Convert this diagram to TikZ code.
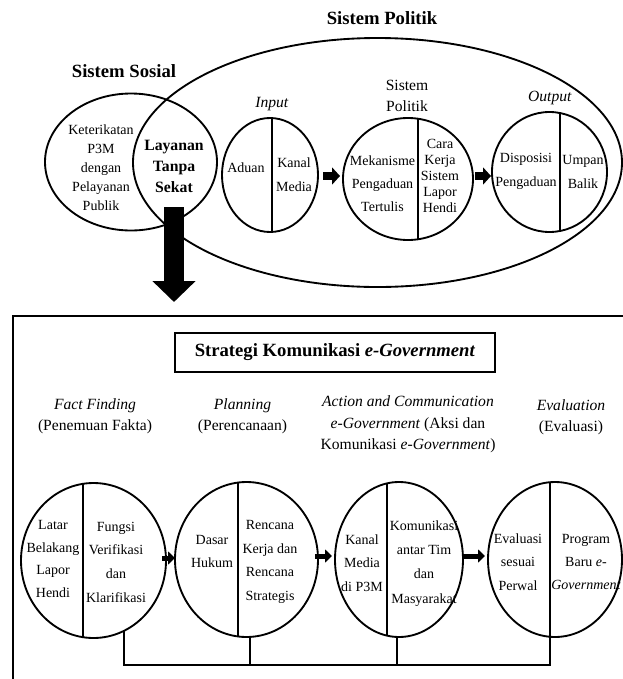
\documentclass[tikz,border=0pt]{standalone}
\usepackage{fontspec}
\setmainfont{Liberation Serif}
\usetikzlibrary{arrows.meta}

\tikzset{
  isi/.style={inner sep=0pt, align=center, font=\fontsize{10.5}{17.5}\selectfont},
  tahap/.style={inner sep=0pt, align=center, font=\fontsize{11.7}{15.75}\selectfont},
  judul/.style={inner sep=0pt, font=\fontsize{14}{17}\selectfont\bfseries},
  panah/.style={line width=5.6pt, -{Triangle[length=6pt,width=12.75pt]}},
  panahkecil/.style={line width=3.75pt, -{Triangle[length=5.25pt,width=9.75pt]}},
}

\begin{document}
\begin{tikzpicture}[x=0.75pt,y=-0.75pt,line width=1.4pt]
  \useasboundingbox (0,0) rectangle (623,679);

  % Sistem Politik and Sistem Sosial
  \draw (377.5,162.5) ellipse (244.5 and 124.5);
  \draw (131,162) ellipse (86 and 68.5);
  \node[judul] (jPolitik) at (382,18) {Sistem Politik};
  \node[judul] (jSosial) at (124,71) {Sistem Sosial};
  \node[isi,font=\fontsize{10.5}{14.25}\selectfont] (keterikatan) at (101,168)
    {Keterikatan\\P3M\\dengan\\Pelayanan\\Publik};
  \node[isi,font=\fontsize{11.8}{15.75}\selectfont\bfseries] (layanan) at (174,166)
    {Layanan\\Tanpa\\Sekat};

  % Input
  \draw (270,175) ellipse (48 and 57);
  \draw (272,{175-57*sqrt(1-(2/48)^2)}) -- (272,{175+57*sqrt(1-(2/48)^2)});
  \node[tahap] (lInput) at (272,104) {\textit{Input}};
  \node[isi] (aduan) at (246,168) {Aduan};
  \node[isi,font=\fontsize{10.5}{18}\selectfont] (kanal) at (294,175) {Kanal\\Media};

  % Sistem Politik circle
  \draw (408,179) ellipse (65 and 61);
  \draw (418,{179-61*sqrt(1-(10/65)^2)}) -- (418,{179+61*sqrt(1-(10/65)^2)});
  \node[tahap] (lPolitik) at (407,95.5) {Sistem\\Politik};
  \node[isi,font=\fontsize{10.5}{17.25}\selectfont] (mekanisme) at (382.5,184)
    {Mekanisme\\Pengaduan\\Tertulis};
  \node[isi,font=\fontsize{10.5}{12}\selectfont] (caraKerja) at (440,176)
    {Cara\\Kerja\\Sistem\\Lapor\\Hendi};

  % Output
  \draw (549.5,172) ellipse (57.5 and 60);
  \draw (560,{172-60*sqrt(1-(10.5/57.5)^2)}) -- (560,{172+60*sqrt(1-(10.5/57.5)^2)});
  \node[tahap] (lOutput) at (550,98) {\textit{Output}};
  \node[isi,font=\fontsize{10.5}{18}\selectfont] (disposisi) at (526,171) {Disposisi\\Pengaduan};
  \node[isi,font=\fontsize{10.5}{18}\selectfont] (umpan) at (583,172) {Umpan\\Balik};

  \coordinate (a1) at (323,176);
  \coordinate (a2) at (340,176);
  \coordinate (a3) at (475,176);
  \coordinate (a4) at (491,176);
  \draw[panah] (a1) -- (a2);
  \draw[panah] (a3) -- (a4);

  % big arrow down
  \coordinate (turunA) at (174,207);
  \coordinate (turunB) at (174,302);
  \draw[line width=15pt, -{Triangle[length=15.75pt,width=31.5pt]}] (turunA) -- (turunB);

  % Strategi Komunikasi frame
  \begin{scope}
    \clip (0,0) rectangle (623,679);
    \draw (13,316) rectangle (650,700);
  \end{scope}
  \node[draw, line width=1.1pt, minimum width=240pt, minimum height=29.25pt,
    font=\fontsize{14}{17}\selectfont\bfseries] (judul) at (335,352.5)
    {Strategi Komunikasi \textit{e-Government}};

  \node[tahap] (tFact) at (95,416.5) {\textit{Fact Finding}\\(Penemuan Fakta)};
  \node[tahap] (tPlan) at (242.5,416.5) {\textit{Planning}\\(Perencanaan)};
  \node[tahap,font=\fontsize{11.7}{16}\selectfont] (tAksi) at (408,424.5)
    {\textit{Action and Communication}\\\textit{e-Government} (Aksi dan\\Komunikasi \textit{e-Government})};
  \node[tahap] (tEval) at (571,417) {\textit{Evaluation}\\(Evaluasi)};

  % four stages
  \draw (93.5,560.5) ellipse (72.5 and 77.5);
  \draw (83,{560.5-77.5*sqrt(1-(10.5/72.5)^2)}) -- (83,{560.5+77.5*sqrt(1-(10.5/72.5)^2)});
  \node[isi,font=\fontsize{10.5}{17}\selectfont] (latar) at (53,559) {Latar\\Belakang\\Lapor\\Hendi};
  \node[isi,font=\fontsize{10.5}{17.75}\selectfont] (fungsi) at (116,562)
    {Fungsi\\Verifikasi\\dan\\Klarifikasi};

  \draw (246.5,559.5) ellipse (71.5 and 77.5);
  \draw (238,{559.5-77.5*sqrt(1-(8.5/71.5)^2)}) -- (238,{559.5+77.5*sqrt(1-(8.5/71.5)^2)});
  \node[isi] (dasar) at (212,551.5) {Dasar\\Hukum};
  \node[isi,font=\fontsize{10.5}{17.75}\selectfont] (rencana) at (270,562)
    {Rencana\\Kerja dan\\Rencana\\Strategis};

  \draw (399,559.5) ellipse (64 and 77.5);
  \draw (387,{559.5-77.5*sqrt(1-(12/64)^2)}) -- (387,{559.5+77.5*sqrt(1-(12/64)^2)});
  \node[isi] (kanalP3M) at (362,563) {Kanal\\Media\\di P3M};
  \node[isi,font=\fontsize{10.5}{18.2}\selectfont] (komunikasi) at (424,563.5)
    {Komunikasi\\antar Tim\\dan\\Masyarakat};

  \draw (555,559.5) ellipse (67 and 77.5);
  \draw (550,{559.5-77.5*sqrt(1-(5/67)^2)}) -- (550,{559.5+77.5*sqrt(1-(5/67)^2)});
  \node[isi] (evaluasi) at (518,562) {Evaluasi\\sesuai\\Perwal};
  \node[isi] (program) at (586,562) {Program\\Baru \textit{e}-\\\textit{Government}};

  \coordinate (p1) at (162,558);
  \coordinate (p2) at (175,558);
  \coordinate (p3) at (315,556);
  \coordinate (p4) at (332,556);
  \coordinate (p5) at (464,556);
  \coordinate (p6) at (485,556);
  \draw[panahkecil] (p1) -- (p2);
  \draw[panahkecil] (p3) -- (p4);
  \draw[panahkecil] (p5) -- (p6);

  % feedback line
  \coordinate (c1b) at (124,{560.5+77.5*sqrt(1-(30.5/72.5)^2)});
  \coordinate (c2b) at (250,{559.5+77.5*sqrt(1-(3.5/71.5)^2)});
  \coordinate (c3b) at (397,{559.5+77.5*sqrt(1-(2/64)^2)});
  \coordinate (c4b) at (550,{559.5+77.5*sqrt(1-(5/67)^2)});
  \coordinate (kanan) at (550,665);
  \draw (c1b) |- (kanan) -- (c4b);
  \draw (c2b) -- (c2b |- kanan);
  \draw (c3b) -- (c3b |- kanan);
\end{tikzpicture}
\end{document}
